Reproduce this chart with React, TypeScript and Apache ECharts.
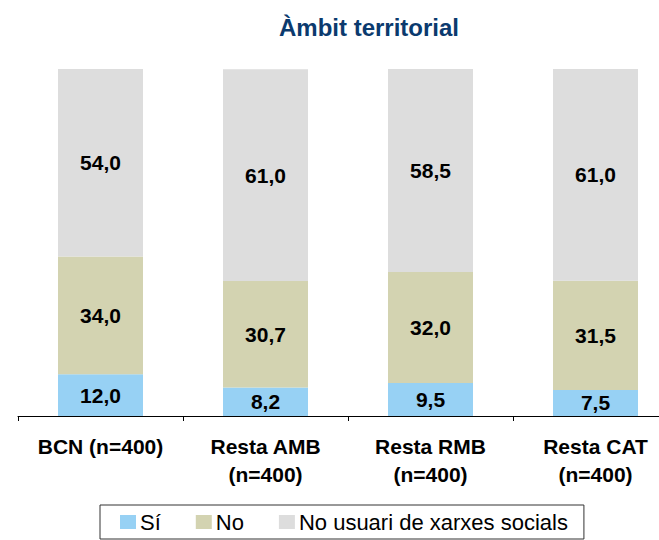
import React, { useEffect, useRef } from "react";
import * as echarts from "echarts";

const categories = ["BCN (n=400)", "Resta AMB\n(n=400)", "Resta RMB\n(n=400)", "Resta CAT\n(n=400)"];
const siValues = [12.0, 8.2, 9.5, 7.5];
const noValues = [34.0, 30.7, 32.0, 31.5];
const noUsuariValues = [54.0, 61.0, 58.5, 61.0];
const seriesNames = ["Sí", "No", "No usuari de xarxes socials"];
const colors = ["#97D1F4", "#D3D3B1", "#DDDDDD"];

const FONT = "'Liberation Sans', Arial, sans-serif";

export default function App() {
  const ref = useRef<HTMLDivElement>(null);
  useEffect(() => {
    if (!ref.current) return;
    const chart = echarts.init(ref.current, null, { renderer: "svg" });
    const label = {
      show: true,
      position: "inside",
      fontSize: 21,
      fontWeight: "bold",
      fontFamily: FONT,
      color: "#000",
      formatter: (p: any) => Number(p.value).toFixed(1).replace(".", ","),
    };
    const data = [siValues, noValues, noUsuariValues];
    chart.setOption({
      animation: false,
      textStyle: { fontFamily: FONT },
      title: {
        text: "Àmbit territorial",
        left: 364,
        top: 10,
        textAlign: "center",
        textStyle: { fontSize: 24, fontWeight: "bold", color: "#0B3A6E", fontFamily: FONT },
      },
      grid: { left: 18, top: 69, width: 660, height: 347, containLabel: false, outerBoundsMode: "none" },
      legend: {
        data: seriesNames,
        left: 100,
        top: 505,
        orient: "horizontal",
        itemWidth: 16,
        itemHeight: 14,
        itemGap: 35,
        padding: [6, 16, 6, 20],
        borderColor: "#333",
        borderWidth: 1,
        icon: "rect",
        textStyle: { fontSize: 22, color: "#000", fontFamily: FONT, padding: [0, 0, 0, -1] },
      },
      xAxis: {
        type: "category",
        data: categories,
        axisLine: { lineStyle: { color: "#000", width: 1 } },
        axisTick: { show: true, length: 5, lineStyle: { color: "#000" } },
        axisLabel: {
          fontSize: 21,
          fontWeight: "bold",
          color: "#000",
          fontFamily: FONT,
          margin: 16,
          lineHeight: 28,
          interval: 0,
        },
      },
      yAxis: { type: "value", min: 0, max: 100, show: false },
      series: data.map((d, i) => ({
        name: seriesNames[i],
        type: "bar",
        stack: "total",
        data: d,
        barWidth: 85,
        itemStyle: { color: colors[i] },
        label,
      })),
    });
    return () => chart.dispose();
  }, []);
  return <div ref={ref} style={{ width: 659, height: 540, position: "absolute", left: 0, top: 0 }} />;
}
